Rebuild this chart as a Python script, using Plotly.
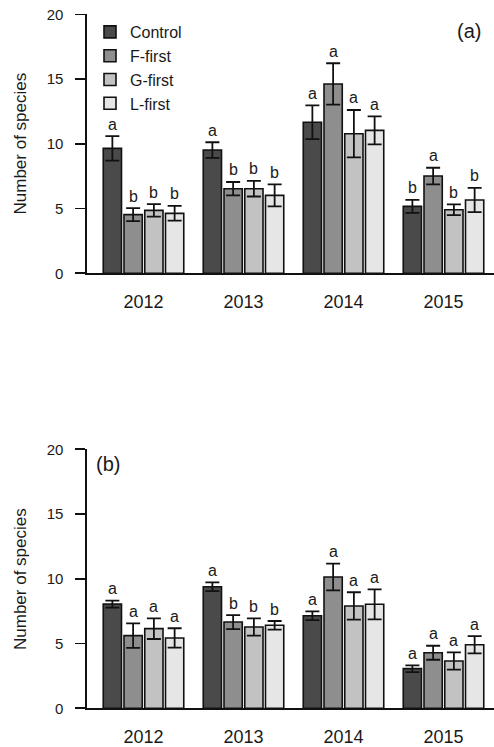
import plotly.graph_objects as go

years = ["2012", "2013", "2014", "2015"]
treatments = ["Control", "F-first", "G-first", "L-first"]
colors = ["#4a4a4a", "#8e8e8e", "#c2c2c2", "#e6e6e6"]

# Panel (a)
a_means = {
    "Control": [9.65, 9.52, 11.66, 5.17],
    "F-first": [4.53, 6.53, 14.62, 7.51],
    "G-first": [4.86, 6.53, 10.78, 4.91],
    "L-first": [4.63, 6.02, 11.04, 5.66],
}
a_err = {
    "Control": [0.95, 0.60, 1.30, 0.50],
    "F-first": [0.50, 0.52, 1.60, 0.64],
    "G-first": [0.48, 0.60, 1.83, 0.42],
    "L-first": [0.57, 0.85, 1.08, 0.93],
}
a_letters = {
    "Control": ["a", "a", "a", "b"],
    "F-first": ["b", "b", "a", "a"],
    "G-first": ["b", "b", "a", "b"],
    "L-first": ["b", "b", "a", "b"],
}

# Panel (b)
b_means = {
    "Control": [8.05, 9.39, 7.15, 3.06],
    "F-first": [5.61, 6.66, 10.14, 4.29],
    "G-first": [6.15, 6.28, 7.90, 3.65],
    "L-first": [5.43, 6.41, 8.03, 4.91],
}
b_err = {
    "Control": [0.27, 0.34, 0.34, 0.26],
    "F-first": [0.95, 0.54, 1.03, 0.54],
    "G-first": [0.80, 0.67, 1.06, 0.67],
    "L-first": [0.75, 0.33, 1.16, 0.67],
}
b_letters = {
    "Control": ["a", "a", "a", "a"],
    "F-first": ["a", "b", "a", "a"],
    "G-first": ["a", "b", "a", "a"],
    "L-first": ["a", "b", "a", "a"],
}

FONT = "Liberation Sans, Arial, sans-serif"
TXT = "#1a1a1a"
BARGAP = 0.17
BARGROUPGAP = 0.12

fig = go.Figure()

panels = [
    ("x", "y", a_means, a_err, a_letters, True),
    ("x2", "y2", b_means, b_err, b_letters, False),
]

annotations = []
n = len(treatments)
slot = (1 - BARGAP) / n
for xa, ya, means, errs, letters, show in panels:
    for j, t in enumerate(treatments):
        fig.add_trace(go.Bar(
            x=years, y=means[t], name=t, xaxis=xa, yaxis=ya,
            marker=dict(color=colors[j], line=dict(color="#111111", width=1.6)),
            error_y=dict(type="data", array=errs[t], visible=True,
                         color="#111111", thickness=1.8, width=7),
            showlegend=show, hoverinfo="skip",
        ))
        off = (j - (n - 1) / 2) * slot
        for i, y in enumerate(years):
            annotations.append(dict(
                x=i + off, y=means[t][i] + errs[t][i], xref=xa, yref=ya,
                text=letters[t][i], showarrow=False, yanchor="middle",
                yshift=12, font=dict(size=16, color=TXT, family=FONT),
            ))

# panel labels and axis titles
annotations += [
    dict(x=469 / 494, y=1 - 31 / 747, xref="paper", yref="paper", text="(a)",
         showarrow=False, xanchor="center", yanchor="middle",
         font=dict(size=20, color=TXT, family=FONT)),
    dict(x=108 / 494, y=1 - 464 / 747, xref="paper", yref="paper", text="(b)",
         showarrow=False, xanchor="center", yanchor="middle",
         font=dict(size=20, color=TXT, family=FONT)),
    dict(x=20 / 494, y=1 - 143.5 / 747, xref="paper", yref="paper",
         text="Number of species", textangle=-90, showarrow=False,
         xanchor="center", yanchor="middle",
         font=dict(size=17, color=TXT, family=FONT)),
    dict(x=20 / 494, y=1 - 579 / 747, xref="paper", yref="paper",
         text="Number of species", textangle=-90, showarrow=False,
         xanchor="center", yanchor="middle",
         font=dict(size=17, color=TXT, family=FONT)),
]

xdom = [87 / 494, 1.0]
xcommon = dict(type="category", domain=xdom, range=[-0.565, 3.505], showline=True,
               linecolor="#111111", linewidth=1.6, ticks="", showgrid=False,
               zeroline=False, tickfont=dict(size=18, color=TXT, family=FONT),
               ticklabelstandoff=11, fixedrange=True, automargin=False)
ycommon = dict(range=[0, 20], tickvals=[0, 5, 10, 15, 20], showline=True,
               linecolor="#111111", linewidth=1.6, ticks="outside", ticklen=10,
               tickwidth=1.6, tickcolor="#111111", showgrid=False,
               zeroline=False, tickfont=dict(size=15, color=TXT, family=FONT),
               ticklabelstandoff=9, fixedrange=True, automargin=False)

fig.update_layout(
    template="none",
    width=494, height=747,
    margin=dict(l=0, r=0, t=0, b=0, autoexpand=False),
    paper_bgcolor="white", plot_bgcolor="white",
    barmode="group", bargap=BARGAP, bargroupgap=BARGROUPGAP,
    font=dict(family=FONT, color=TXT),
    xaxis=dict(**xcommon, anchor="y"),
    yaxis=dict(**ycommon, domain=[1 - 273.3 / 747, 1 - 14.3 / 747], anchor="x"),
    xaxis2=dict(**xcommon, anchor="y2"),
    yaxis2=dict(**ycommon, domain=[1 - 708.3 / 747, 1 - 449.3 / 747], anchor="x2"),
    legend=dict(x=90 / 494, y=1 - 15 / 747, xanchor="left", yanchor="top",
                bgcolor="rgba(0,0,0,0)", font=dict(size=16, color=TXT, family=FONT),
                tracegroupgap=0, itemclick=False, itemdoubleclick=False),
    annotations=annotations,
    showlegend=True,
    hovermode=False,
)

fig.write_html("out.html", config={"displayModeBar": False, "staticPlot": True},
               post_script="document.body.style.margin='0';")
